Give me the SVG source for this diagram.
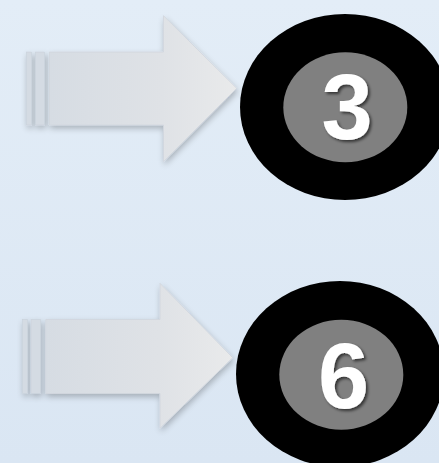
<svg xmlns="http://www.w3.org/2000/svg" width="439" height="463" viewBox="0 0 439 463">
<defs>
<linearGradient id="bg" x1="0" y1="0" x2="0" y2="1">
<stop offset="0" stop-color="#e3edf7"/>
<stop offset="1" stop-color="#dae6f3"/>
</linearGradient>
<linearGradient id="arr" x1="0" y1="0" x2="1" y2="0">
<stop offset="0" stop-color="#d6dce3"/>
<stop offset="0.6" stop-color="#dfe2e6"/>
<stop offset="1" stop-color="#e9eaeb"/>
</linearGradient>
<filter id="sh" x="-10%" y="-10%" width="125%" height="125%">
<feGaussianBlur in="SourceAlpha" stdDeviation="3"/>
<feOffset dx="1" dy="3" result="b"/>
<feComponentTransfer><feFuncA type="linear" slope="0.25"/></feComponentTransfer>
<feMerge><feMergeNode/><feMergeNode in="SourceGraphic"/></feMerge>
</filter>
<filter id="tsh" x="-20%" y="-20%" width="150%" height="150%">
<feGaussianBlur in="SourceAlpha" stdDeviation="1.5"/>
<feOffset dx="2" dy="2"/>
<feComponentTransfer><feFuncA type="linear" slope="0.6"/></feComponentTransfer>
<feMerge><feMergeNode/><feMergeNode in="SourceGraphic"/></feMerge>
</filter>
</defs>
<style>
.arrow{fill:url(#arr);stroke:#d0d6dd;stroke-width:0.8}
.stripe{fill:#d4dbe3;stroke:#c9d1da;stroke-width:0.6}
.outer{fill:#000}
.inner{fill:#808080}
.num{font-family:"Liberation Sans",Arial,sans-serif;font-weight:bold;font-size:92px;fill:#fff;text-anchor:middle}
</style>
<rect width="439" height="463" fill="url(#bg)"/>
<g id="connectors">
<g id="arrow1" filter="url(#sh)">
<rect class="stripe" x="26.5" y="52" width="5" height="73"/>
<rect class="stripe" x="35.5" y="52" width="9" height="73"/>
<path class="arrow" d="M49.3 52 H163.5 V15.7 L236.7 88.3 L163.5 161.7 V125 H49.3 Z"/>
</g>
<g id="arrow2" filter="url(#sh)">
<rect class="stripe" x="22.5" y="319.5" width="5" height="74"/>
<rect class="stripe" x="31" y="319.5" width="9.5" height="74"/>
<path class="arrow" d="M45.7 319.5 H160 V283.3 L232.7 357.7 L160 428.3 V393.5 H45.7 Z"/>
</g>
</g>
<g id="node3">
<ellipse class="outer" cx="345" cy="107" rx="105" ry="93"/>
<ellipse class="inner" cx="345.3" cy="107.3" rx="62" ry="55"/>
<text class="num" x="347" y="138.5" filter="url(#tsh)">3</text>
</g>
<g id="node6">
<ellipse class="outer" cx="340" cy="374" rx="104" ry="93"/>
<ellipse class="inner" cx="341.3" cy="374.7" rx="62" ry="55"/>
<text class="num" x="343.5" y="407.5" filter="url(#tsh)">6</text>
</g>
</svg>
